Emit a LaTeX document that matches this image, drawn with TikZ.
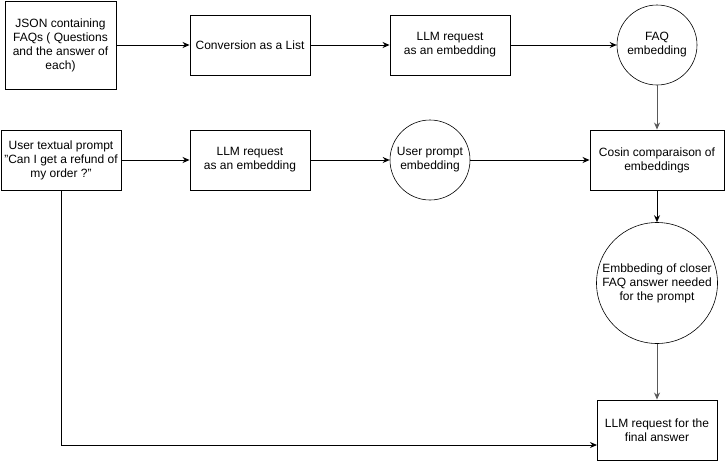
\documentclass[tikz,border=0pt]{standalone}
\usepackage{fontspec}
\setmainfont{Liberation Sans}
\usetikzlibrary{arrows.meta}
\begin{document}
\begin{tikzpicture}[x=1pt, y=-1pt,
    every node/.style={font=\fontsize{12}{14}\selectfont, align=center},
    box/.style={draw, line width=0.9pt, rectangle, minimum width=120pt, minimum height=60pt, inner sep=2pt},
    disc/.style={draw, line width=0.6pt, circle, inner sep=0pt},
    link/.style={line width=0.9pt, -{Stealth[length=7pt, width=6pt]}},
    greylink/.style={link, draw=black!65}]
    \useasboundingbox (0, 0) rectangle (726, 461) ;
    % top row
    \node[box, minimum width=111pt, minimum height=88pt] (json) at (60.5, 45) {JSON containing\\FAQs ( Questions\\and the answer of\\each)} ;
    \node[box] (conv) at (250, 45) {Conversion as a List} ;
    \node[box] (reqA) at (450, 45) {LLM request\\as an embedding} ;
    \node[disc, minimum size=80pt] (faq) at (657, 45) {FAQ\\embedding} ;
    % second row
    \node[box] (user) at (61, 160) {User textual prompt\\"Can I get a refund of\\my order ?"} ;
    \node[box] (reqB) at (250, 160) {LLM request\\as an embedding} ;
    \node[disc, minimum size=80pt] (uemb) at (430, 160) {User prompt\\embedding} ;
    \node[box, minimum width=134pt] (cosin) at (657, 160) {Cosin comparaison of\\embeddings} ;
    % right column
    \node[disc, minimum size=121pt] (closer) at (657, 283) {Embbeding of closer\\FAQ answer needed\\for the prompt} ;
    \node[box] (final) at (657, 430) {LLM request for the\\final answer} ;
    \coordinate (entry) at (597, 445) ;
    % connectors
    \draw[link] (json) -- (conv) ;
    \draw[link] (conv) -- (reqA) ;
    \draw[link] (reqA) -- (faq) ;
    \draw[greylink] (faq) -- (cosin) ;
    \draw[link] (user) -- (reqB) ;
    \draw[link] (reqB) -- (uemb) ;
    \draw[link] (uemb) -- (cosin) ;
    \draw[link] (cosin) -- (closer) ;
    \draw[greylink] (closer) -- (final) ;
    \draw[link] (user.south) |- (entry) ;
\end{tikzpicture}
\end{document}
